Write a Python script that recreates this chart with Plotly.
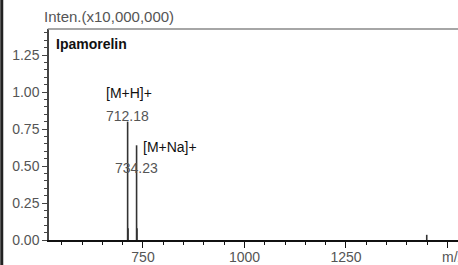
import plotly.graph_objects as go

# Peak list (m/z, intensity in x10,000,000)
peak_mz = [712.18, 713.2, 734.23, 735.2, 1449.0]
peak_int = [0.80, 0.08, 0.64, 0.08, 0.035]

ann_mz = [712.18, 734.23]
ann_int = [0.80, 0.64]
ann_ion = ["[M+H]+", "[M+Na]+"]
ann_val = ["712.18", "734.23"]

x_tickvals = [750, 1000, 1250, 1500]
x_ticktext = ["750", "1000", "1250", ""]
y_tickvals = [0, 0.25, 0.5, 0.75, 1.0, 1.25]

xs, ys = [], []
for m, v in zip(peak_mz, peak_int):
    xs += [m, m, None]
    ys += [0, v, None]

fig = go.Figure()
fig.add_trace(go.Scatter(x=xs, y=ys, mode="lines",
                         line=dict(color="#333333", width=1.6),
                         hoverinfo="skip", showlegend=False))

FF = "Liberation Sans, Arial"
font_num = dict(family=FF, size=14, color="#555555")
font_ion = dict(family=FF, size=14, color="#111111")

# annotations
fig.add_annotation(x=ann_mz[0], y=ann_int[0], text=ann_val[0], showarrow=False,
                   xanchor="center", yanchor="bottom", yshift=-4, font=font_num)
fig.add_annotation(x=ann_mz[0], y=ann_int[0], text=ann_ion[0], showarrow=False,
                   xanchor="center", yanchor="bottom", yshift=19, xshift=1, font=font_ion)
fig.add_annotation(x=ann_mz[1], y=ann_int[1], text=ann_val[1], showarrow=False,
                   xanchor="center", yanchor="top", yshift=-13, font=font_num)
fig.add_annotation(x=ann_mz[1], y=ann_int[1], text=ann_ion[1], showarrow=False,
                   xanchor="left", yanchor="bottom", xshift=4, yshift=-12, font=font_ion)

fig.add_annotation(xref="paper", yref="paper", x=0.012, y=0.93, text="<b>Ipamorelin</b>",
                   showarrow=False, xanchor="left", yanchor="middle",
                   font=dict(family=FF, size=14, color="#111111"))
fig.add_annotation(xref="paper", yref="paper", x=-0.018, y=1.0, text="Inten.(x10,000,000)",
                   showarrow=False, xanchor="left", yanchor="bottom", yshift=2,
                   font=dict(family=FF, size=15, color="#555555"))
fig.add_annotation(xref="paper", yref="paper", x=0.956, y=-0.08, text="m/z",
                   showarrow=False, xanchor="left", yanchor="middle",
                   font=dict(family=FF, size=14, color="#555555"))

# frame lines
fig.add_shape(type="line", xref="paper", yref="paper", x0=-0.003, x1=1.0, y0=1.0, y1=1.0,
              line=dict(color="#888888", width=1.5))
fig.add_shape(type="line", xref="paper", yref="paper", x0=-0.1155, x1=-0.1155, y0=-0.2, y1=1.2,
              line=dict(color="#222222", width=3))

fig.update_xaxes(range=[518.5, 1526], showline=True, linecolor="#111111", linewidth=1.5,
                 ticks="outside", ticklen=6, tickcolor="#111111", tickwidth=1.3,
                 tickvals=x_tickvals, ticktext=x_ticktext, showgrid=False, zeroline=False,
                 automargin=False, ticklabelstandoff=-3,
                 tickfont=dict(family=FF, size=14, color="#555555"),
                 minor=dict(dtick=50, ticks="outside", ticklen=3, tickcolor="#111111"))
fig.update_yaxes(range=[0, 1.426], showline=True, linecolor="#444444", linewidth=1.5,
                 ticks="outside", ticklen=5, tickcolor="#444444", tickwidth=1.2,
                 tickvals=y_tickvals, tickformat=".2f", showgrid=False, zeroline=False,
                 automargin=False,
                 tickfont=dict(family=FF, size=14, color="#555555"),
                 minor=dict(dtick=0.05, ticks="outside", ticklen=3, tickcolor="#444444"))

fig.update_layout(width=458, height=265, margin=dict(l=49, r=0, t=29, b=25),
                  plot_bgcolor="white", paper_bgcolor="white")

fig.write_html("out.html", config={"displayModeBar": False},
               post_script="document.body.style.margin='0';document.body.style.overflow='hidden';")
